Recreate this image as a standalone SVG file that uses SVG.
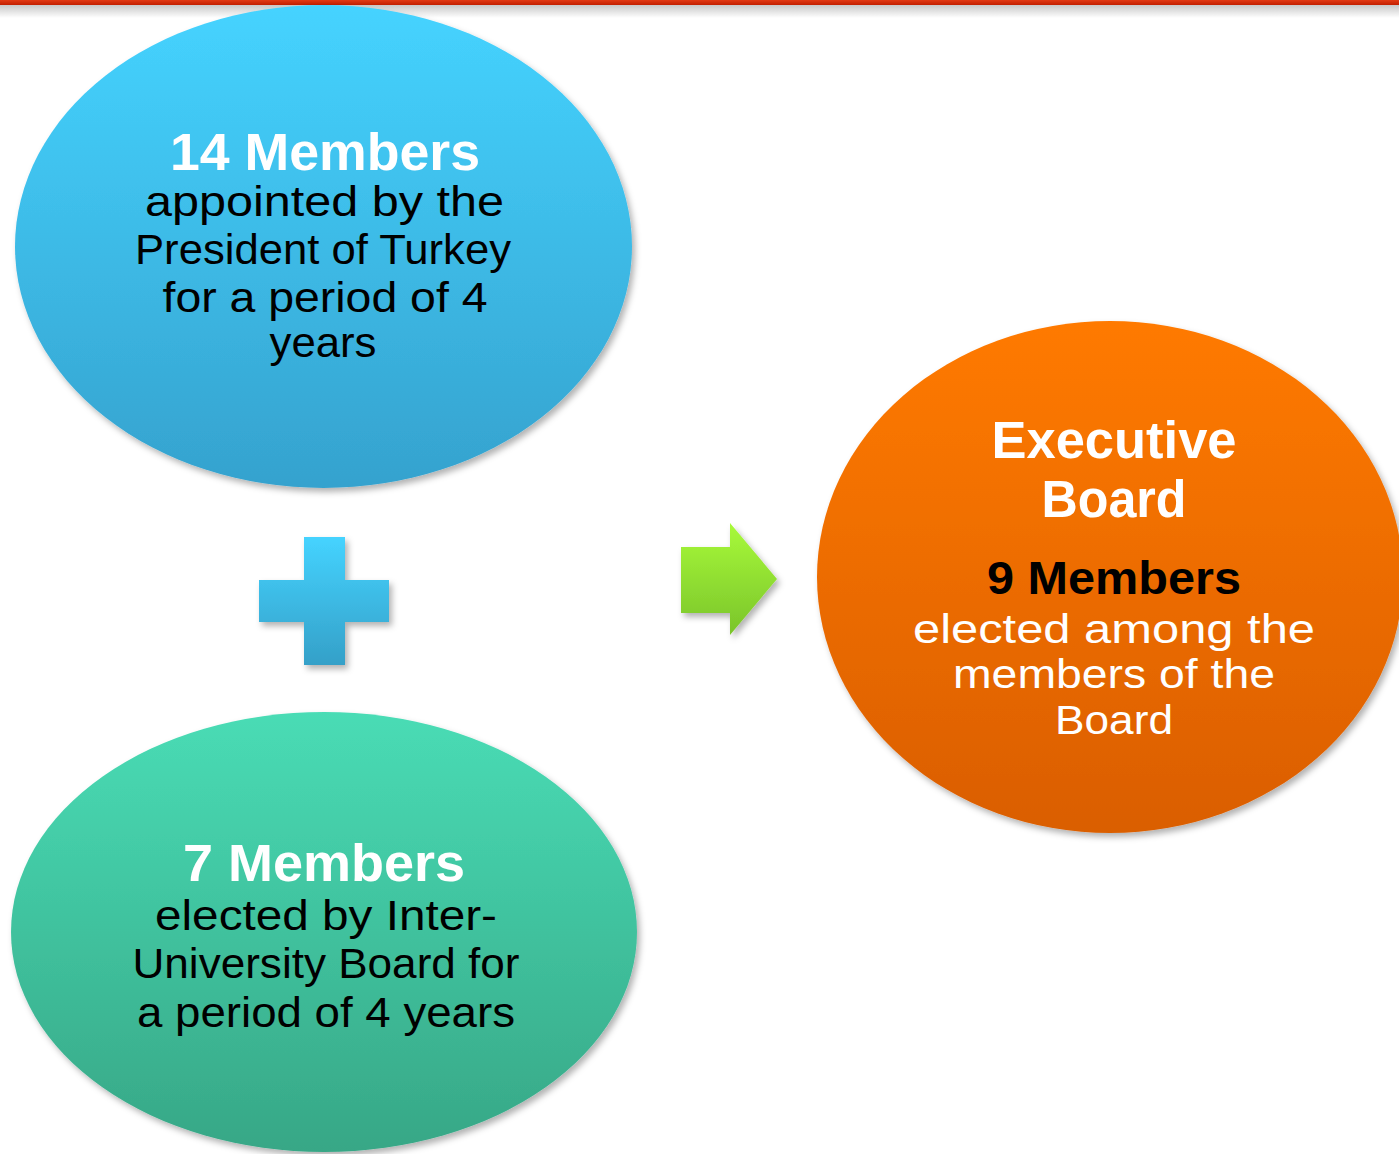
<svg xmlns="http://www.w3.org/2000/svg" width="1399" height="1154" viewBox="0 0 1399 1154">
<defs>
<linearGradient id="gBlue" x1="0" y1="0" x2="0" y2="1"><stop offset="0" stop-color="#45D3FF"/><stop offset="1" stop-color="#35A2CE"/></linearGradient>
<linearGradient id="gGreen" x1="0" y1="0" x2="0" y2="1"><stop offset="0" stop-color="#49DCB5"/><stop offset="1" stop-color="#37A786"/></linearGradient>
<linearGradient id="gOrange" x1="0" y1="0" x2="0" y2="1"><stop offset="0" stop-color="#FF7A01"/><stop offset="1" stop-color="#DA5E02"/></linearGradient>
<linearGradient id="gPlus" x1="0" y1="0" x2="0" y2="1"><stop offset="0" stop-color="#45D3FF"/><stop offset="1" stop-color="#34A0C8"/></linearGradient>
<linearGradient id="gArrow" x1="0" y1="0" x2="0" y2="1"><stop offset="0" stop-color="#A8FA3A"/><stop offset="1" stop-color="#7AC42A"/></linearGradient>
<linearGradient id="gRed" x1="0" y1="0" x2="0" y2="1"><stop offset="0" stop-color="#E23A14"/><stop offset="1" stop-color="#C21E00"/></linearGradient>
<linearGradient id="gTopShadow" x1="0" y1="0" x2="0" y2="1"><stop offset="0" stop-color="#000" stop-opacity="0.3"/><stop offset="1" stop-color="#000" stop-opacity="0"/></linearGradient>
<filter id="shadow" x="-10%" y="-10%" width="125%" height="125%"><feDropShadow dx="3" dy="4" stdDeviation="3" flood-color="#000" flood-opacity="0.3"/></filter>
</defs>
<style>
.t{font-family:"Liberation Sans",Arial,sans-serif;text-anchor:middle}
.h{font-weight:bold;font-size:51px;fill:#fff}
.b{font-size:43px;fill:#000}
.ob{font-size:41px;fill:#fff}
.hk{font-weight:bold;font-size:46px;fill:#000}
</style>
<rect x="0" y="0" width="1399" height="18" fill="url(#gTopShadow)"/>
<rect x="0" y="0" width="1399" height="5" fill="url(#gRed)"/>
<g id="node-blue">
<ellipse cx="323.5" cy="246.5" rx="308.5" ry="241.5" fill="url(#gBlue)" filter="url(#shadow)"/>
<text class="t h" x="325" y="170" textLength="310" lengthAdjust="spacingAndGlyphs">14 Members</text>
<text class="t b" x="324.5" y="216" textLength="359" lengthAdjust="spacingAndGlyphs">appointed by the</text>
<text class="t b" x="323" y="264" textLength="376" lengthAdjust="spacingAndGlyphs">President of Turkey</text>
<text class="t b" x="325" y="312" textLength="325" lengthAdjust="spacingAndGlyphs">for a period of 4</text>
<text class="t b" x="323" y="357" textLength="107" lengthAdjust="spacingAndGlyphs">years</text>
</g>
<g id="node-plus">
<path d="M304,537 H345 V580 H389 V622 H345 V665 H304 V622 H259 V580 H304 Z" fill="url(#gPlus)" filter="url(#shadow)"/>
</g>
<g id="node-green">
<ellipse cx="324" cy="932" rx="313" ry="220" fill="url(#gGreen)" filter="url(#shadow)"/>
<text class="t h" x="324" y="881" textLength="282" lengthAdjust="spacingAndGlyphs">7 Members</text>
<text class="t b" x="326" y="930" textLength="342" lengthAdjust="spacingAndGlyphs">elected by Inter-</text>
<text class="t b" x="326" y="978" textLength="387" lengthAdjust="spacingAndGlyphs">University Board for</text>
<text class="t b" x="326" y="1027" textLength="378" lengthAdjust="spacingAndGlyphs">a period of 4 years</text>
</g>
<g id="connectors">
<path d="M681,547 H730 V523 L777,579 L730,635 V613 H681 Z" fill="url(#gArrow)" filter="url(#shadow)"/>
</g>
<g id="node-orange">
<ellipse cx="1110" cy="577" rx="293" ry="256" fill="url(#gOrange)" filter="url(#shadow)"/>
<text class="t h" x="1114" y="458" textLength="245" lengthAdjust="spacingAndGlyphs">Executive</text>
<text class="t h" x="1114" y="517" textLength="145" lengthAdjust="spacingAndGlyphs">Board</text>
<text class="t hk" x="1114" y="594" textLength="254" lengthAdjust="spacingAndGlyphs">9 Members</text>
<text class="t ob" x="1114" y="643" textLength="402" lengthAdjust="spacingAndGlyphs">elected among the</text>
<text class="t ob" x="1114" y="688" textLength="322" lengthAdjust="spacingAndGlyphs">members of the</text>
<text class="t ob" x="1114" y="734" textLength="118" lengthAdjust="spacingAndGlyphs">Board</text>
</g>
</svg>
